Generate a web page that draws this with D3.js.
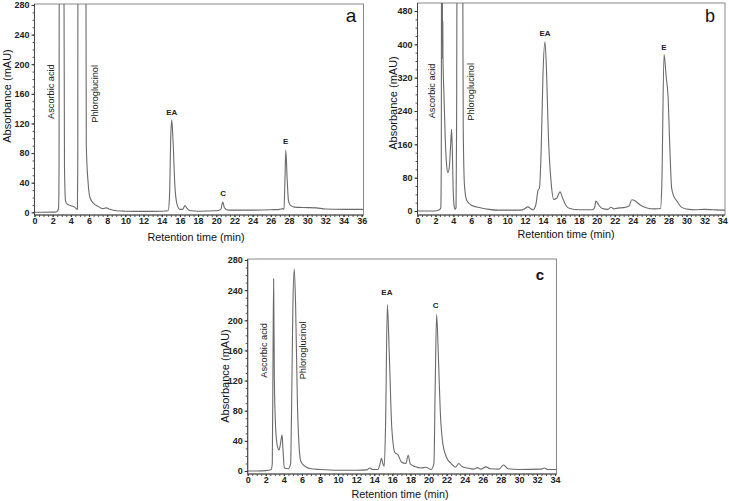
<!DOCTYPE html>
<html>
<head>
<meta charset="utf-8">
<script src="https://cdn.jsdelivr.net/npm/d3@7"></script>
<style>
	body { margin:0; background:#fff; }
	svg { display:block; font-family:"Liberation Sans", Arial, sans-serif; }
</style>
</head>
<body>
<svg id="chart" width="729" height="501"></svg>
<script>

//------------------------------------------------------------------
//	data  [time (min), absorbance (mAU)]
//------------------------------------------------------------------
var traceA = [
	[0,0],[1,0],[2,0.2],[2.4,0.5],[2.55,2],[2.65,6],[2.7,60],[2.75,900],[3.1,900],[3.3,60],[3.42,15],
	[3.6,11],[4,9],[4.4,7],[4.72,4],[4.76,60],[4.8,900],[5.55,900],[5.7,90],[5.9,40],[6.1,20],[6.5,12],
	[7,8],[7.5,5],[7.9,6],[8.3,4],[9,2],[10,1.5],[12,1.2],[14,1.5],[14.7,2],[14.85,20],[15.0,105],
	[15.1,125],[15.25,95],[15.45,35],[15.7,10],[16,4],[16.3,4],[16.55,9],[16.8,5],[17.2,2],[18,1.5],
	[20,2],[20.5,4],[20.72,14],[20.9,6],[21.3,3],[22,3],[24,3],[26,3.5],[27,4],[27.3,5],[27.45,4],
	[27.55,40],[27.65,84],[27.8,45],[27.95,15],[28.2,9],[28.6,7],[29.5,6.5],[31,6],[32,4.5],[34,4],[36.2,4]
];

var traceB = [
	[0,0],[1,0],[2,0],[2.3,2],[2.55,5],[2.6,8],[2.65,100],[2.7,900],[2.76,900],[2.78,455],[2.8,365],
	[2.82,455],[2.84,370],[2.95,280],[3.1,170],[3.25,110],[3.39,92],[3.55,105],[3.7,160],[3.8,196],
	[3.88,150],[3.98,50],[4.1,10],[4.2,4],[4.3,8],[4.36,200],[4.45,900],[5.0,900],[5.1,200],[5.25,58],
	[5.5,25],[6,14],[7,8],[8,4],[9,2],[10,2],[11.5,2],[12,6],[12.3,10],[12.6,6],[12.9,3],[13.2,15],
	[13.45,50],[13.6,55],[13.8,150],[14.0,330],[14.22,406],[14.4,330],[14.6,180],[14.9,70],[15.2,28],
	[15.5,30],[15.9,46],[16.2,30],[16.6,12],[17,6],[18,3],[19.5,3],[19.75,8],[19.9,24],[20.2,15],
	[20.6,6],[21.2,4],[21.6,9],[21.9,5],[22.3,7],[23,8],[23.6,12],[23.9,27],[24.3,24],[24.8,15],
	[25.5,8],[26.5,5],[27.1,6],[27.25,60],[27.5,376],[27.75,320],[27.95,274],[28.15,150],[28.35,55],
	[28.6,35],[28.9,25],[29.4,10],[30,5],[31,3],[32,4],[33,3],[34,2],[34.3,2]
];

var traceC = [
	[0,0],[1,0],[2,0.5],[2.6,2],[2.72,10],[2.8,150],[2.87,255],[2.95,120],[3.1,55],[3.3,32],[3.47,28],
	[3.65,38],[3.8,48],[3.92,25],[4.06,4],[4.5,3],[4.75,10],[4.85,80],[5.0,220],[5.15,268],[5.3,220],
	[5.5,90],[5.7,30],[5.9,12],[6.5,5],[7,3],[8,2],[10,1],[12,1],[13.2,1.5],[13.5,4],[13.8,2],[14.4,2],
	[14.65,10],[14.8,17],[14.95,10],[15.1,6],[15.25,60],[15.45,221],[15.65,160],[15.95,55],[16.3,24],
	[16.6,22],[17,12],[17.5,10],[17.75,21],[18.0,9],[18.5,6],[19.2,4],[19.7,5],[20.3,2],[20.6,10],
	[20.75,120],[20.9,208],[21.1,150],[21.3,80],[21.6,35],[22,18],[22.5,10],[23,5],[23.35,10],[23.7,6],
	[24.3,4],[25,2.5],[25.4,4.5],[25.8,2.5],[26.35,5.5],[26.8,3],[27.8,2.5],[28.3,8],[28.8,3],[30,2],
	[32.5,2.5],[32.8,4],[33.2,2],[34.2,2]
];

// peak labels  [text, time, absorbance]
var peaksA = [['EA',15.1,135],['C',20.75,26],['E',27.65,96]];
var peaksB = [['EA',14.22,425],['E',27.5,392]];
var peaksC = [['EA',15.4,237],['C',20.8,219]];

// rotated compound names  [text, time, absorbance]
var namesA = [['Ascorbic acid',1.8,163],['Phloroglucinol',6.66,160]];
var namesB = [['Ascorbic acid',1.64,288],['Phloroglucinol',5.92,286]];
var namesC = [['Ascorbic acid',1.84,160],['Phloroglucinol',6.15,160]];

var yTicksA = [0,40,80,120,160,200,240,280];
var yTicksB = [0,80,160,240,320,400,480];
var yTicksC = [0,40,80,120,160,200,240,280];

var xTicksA = d3.range(0,37,2);
var xTicksB = d3.range(0,35,2);
var xTicksC = d3.range(0,35,2);


//------------------------------------------------------------------
//
//------------------------------------------------------------------
function drawPanel(o)	{

	var svg = d3.select('#chart');

	var x = d3.scaleLinear().domain(o.xd).range([o.l, o.r]),
			y = d3.scaleLinear().domain(o.yd).range([o.y0, o.y1]);

	var g = svg.append('g').attr('class','panel-'+o.id);

	g.append('clipPath').attr('id','clip-'+o.id)
		.append('rect')
			.attr('x',o.l).attr('y',o.t)
			.attr('width',o.r-o.l).attr('height',o.b-o.t);

	// frame
	g.append('rect')
		.attr('x',o.l).attr('y',o.t)
		.attr('width',o.r-o.l).attr('height',o.b-o.t)
		.attr('fill','none').attr('stroke','#8a8a8a').attr('stroke-width',1);

	// trace
	var line = d3.line().x(d=>x(d[0])).y(d=>y(d[1])).curve(d3.curveMonotoneX);
	g.append('path')
		.datum(o.data)
		.attr('clip-path','url(#clip-'+o.id+')')
		.attr('d',line)
		.attr('fill','none')
		.attr('stroke','#6a6a6a')
		.attr('stroke-width',1.1)
		.attr('stroke-linejoin','round');

	// x axis (minor then major)
	g.append('g')
		.attr('transform','translate(0,'+o.b+')')
		.call(d3.axisBottom(x).tickValues(d3.range(0,o.xd[1],0.5)).tickSize(2).tickFormat(''))
		.call(sel=>{ sel.select('.domain').remove(); sel.selectAll('line').attr('stroke','#555'); });

	g.append('g')
		.attr('transform','translate(0,'+o.b+')')
		.call(d3.axisBottom(x).tickValues(o.xt).tickSize(2).tickPadding(1))
		.call(sel=>{
			sel.select('.domain').attr('stroke','#444').attr('d','M'+o.l+',0H'+o.r);
			sel.selectAll('line').attr('stroke','#333');
			sel.selectAll('text').attr('font-size',9).attr('font-weight','bold').attr('fill','#222')
				.attr('font-family','"Liberation Sans", Arial, sans-serif');
		});

	// y axis
	g.append('g')
		.attr('transform','translate('+o.l+',0)')
		.call(d3.axisLeft(y).tickValues(d3.range(0,o.yd[1],o.ym)).tickSize(2).tickFormat(''))
		.call(sel=>{ sel.select('.domain').remove(); sel.selectAll('line').attr('stroke','#555'); });

	g.append('g')
		.attr('transform','translate('+o.l+',0)')
		.call(d3.axisLeft(y).tickValues(o.yt).tickSize(3).tickPadding(2))
		.call(sel=>{
			sel.select('.domain').attr('stroke','#444').attr('d','M0,'+o.t+'V'+o.b);
			sel.selectAll('line').attr('stroke','#333');
			sel.selectAll('text').attr('font-size',9).attr('font-weight','bold').attr('fill','#222')
				.attr('font-family','"Liberation Sans", Arial, sans-serif');
		});

	// axis titles
	g.append('text')
		.attr('x',o.xtx).attr('y',o.xty)
		.attr('text-anchor','middle').attr('dominant-baseline','central')
		.attr('font-size',10.8).attr('fill','#111')
		.text('Retention time (min)');

	g.append('text')
		.attr('transform','translate('+o.ytx+','+o.yty+') rotate(-90)')
		.attr('text-anchor','middle').attr('dominant-baseline','central')
		.attr('font-size',11).attr('fill','#111')
		.text('Absorbance (mAU)');

	// compound names
	g.selectAll('.cname').data(o.names).enter()
		.append('text')
			.attr('class','cname')
			.attr('transform',d=>'translate('+x(d[1])+','+y(d[2])+') rotate(-90)')
			.attr('text-anchor','middle').attr('dominant-baseline','central')
			.attr('font-size',9.2).attr('fill','#222')
			.text(d=>d[0]);

	// peak labels
	g.selectAll('.pname').data(o.peaks).enter()
		.append('text')
			.attr('class','pname')
			.attr('x',d=>x(d[1])).attr('y',d=>y(d[2]))
			.attr('text-anchor','middle').attr('dominant-baseline','central')
			.attr('font-size',8).attr('font-weight','bold').attr('fill','#222')
			.text(d=>d[0]);

	// panel letter
	g.append('text')
		.attr('x',o.lx).attr('y',o.ly)
		.attr('text-anchor','middle').attr('dominant-baseline','central')
		.attr('font-size',o.lfs).attr('font-weight',o.lfw).attr('fill','#111')
		.text(o.id);

}


drawPanel({ id:'a', data:traceA, peaks:peaksA, names:namesA, xt:xTicksA, yt:yTicksA, ym:10,
	xd:[0,36.2], yd:[0,280], l:34.5, r:363.5, t:4, b:215, y0:212.3, y1:5,
	xtx:196, xty:236.5, ytx:7, yty:96, lx:351, ly:15, lfs:19, lfw:'normal' });

drawPanel({ id:'b', data:traceB, peaks:peaksB, names:namesB, xt:xTicksB, yt:yTicksB, ym:20,
	xd:[0,34.3], yd:[0,480], l:417.5, r:725, t:3, b:215, y0:211, y1:11,
	xtx:566, xty:234, ytx:393, yty:103, lx:710, ly:16, lfs:18, lfw:'normal' });

drawPanel({ id:'c', data:traceC, peaks:peaksC, names:namesC, xt:xTicksC, yt:yTicksC, ym:10,
	xd:[0,34.16], yd:[0,280], l:247.7, r:556.5, t:259, b:474, y0:471, y1:260,
	xtx:400, xty:493.5, ytx:225, yty:376, lx:540, ly:274, lfs:15, lfw:'bold' });

</script>
</body>
</html>
